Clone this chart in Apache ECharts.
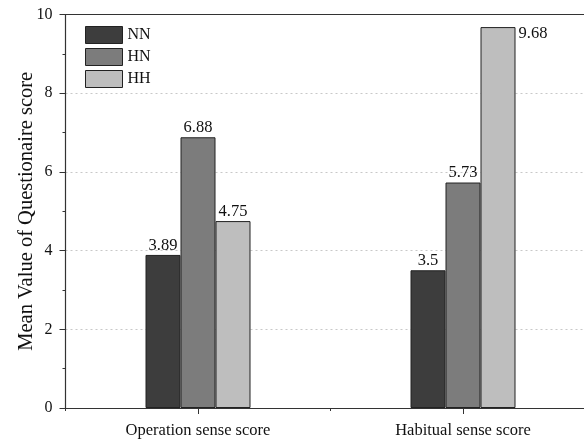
<!DOCTYPE html>
<html>
<head>
<meta charset="utf-8">
<script src="https://cdn.jsdelivr.net/npm/echarts@6/dist/echarts.min.js"></script>
<style>
  html, body { margin: 0; padding: 0; background: #fff; }
  #chart { width: 584px; height: 440px; }
</style>
</head>
<body>
<div id="chart"></div>
<script>
const categories = ["Operation sense score", "Habitual sense score"];
const nnValues = [3.89, 3.5];
const hnValues = [6.88, 5.73];
const hhValues = [4.75, 9.68];
const seriesNames = ["NN", "HN", "HH"];
const seriesColors = ["#3d3d3d", "#7c7c7c", "#bebebe"];

const font = "Liberation Serif";
let my_chart = echarts.init(document.getElementById("chart"));

function barSeries(name, values, color) {
  return {
    name: name,
    type: "bar",
    barWidth: 35,
    barGap: "0%",
    data: values.map(function (v) {
      // the tallest bar gets its label beside the top
      if (v > 9) {
        return { value: v, label: { position: [38, -2], align: "left", verticalAlign: "top" } };
      }
      return v;
    }),
    itemStyle: { color: color, borderColor: "#222", borderWidth: 1 },
    label: {
      show: true,
      position: "top",
      distance: 1,
      color: "#111",
      fontFamily: font,
      fontSize: 16.5,
    },
  };
}

my_chart.setOption({
  animation: false,
  grid: {
    left: 65.5,
    top: 14.5,
    width: 530,
    height: 393.5,
    outerBoundsMode: "none",
    containLabel: false,
  },
  legend: {
    orient: "vertical",
    left: 80,
    top: 21,
    itemWidth: 37,
    itemHeight: 17,
    itemGap: 4,
    icon: "rect",
    data: seriesNames,
    itemStyle: { borderWidth: 1, borderColor: "#222" },
    textStyle: { fontFamily: font, fontSize: 16, color: "#111", padding: [0, 0, 0, 0] },
  },
  xAxis: [
    {
      type: "category",
      data: categories,
      axisLine: { lineStyle: { color: "#333", width: 1.2 } },
      axisTick: { show: true, length: 6, interval: 0, alignWithLabel: true, lineStyle: { color: "#333" } },
      axisLabel: { fontFamily: font, fontSize: 16.5, color: "#111", margin: 14 },
    },
    {
      // short ticks between the groups
      type: "category",
      data: categories,
      position: "bottom",
      offset: 0,
      axisLine: { show: false },
      axisTick: { show: true, length: 3, interval: 0, lineStyle: { color: "#333" } },
      axisLabel: { show: false },
    },
    {
      // top frame line
      type: "category",
      data: categories,
      position: "top",
      axisLine: { lineStyle: { color: "#333", width: 1.2 } },
      axisTick: { show: false },
      axisLabel: { show: false },
    },
  ],
  yAxis: {
    type: "value",
    min: 0,
    max: 10,
    interval: 2,
    name: "Mean Value of Questionaire score",
    nameLocation: "middle",
    nameGap: 28,
    nameMoveOverlap: false,
    nameTextStyle: { fontFamily: font, fontSize: 20.5, color: "#111" },
    axisLine: { show: true, lineStyle: { color: "#333", width: 1.2 } },
    axisTick: { show: true, length: 6, lineStyle: { color: "#333" } },
    minorTick: { show: true, splitNumber: 2, length: 3, lineStyle: { color: "#333" } },
    axisLabel: { fontFamily: font, fontSize: 16, color: "#111", margin: 13 },
    splitLine: { show: true, lineStyle: { color: "#c8c8c8", type: [2, 3] } },
  },
  series: [
    barSeries(seriesNames[0], nnValues, seriesColors[0]),
    barSeries(seriesNames[1], hnValues, seriesColors[1]),
    barSeries(seriesNames[2], hhValues, seriesColors[2]),
  ],
});
</script>
</body>
</html>
